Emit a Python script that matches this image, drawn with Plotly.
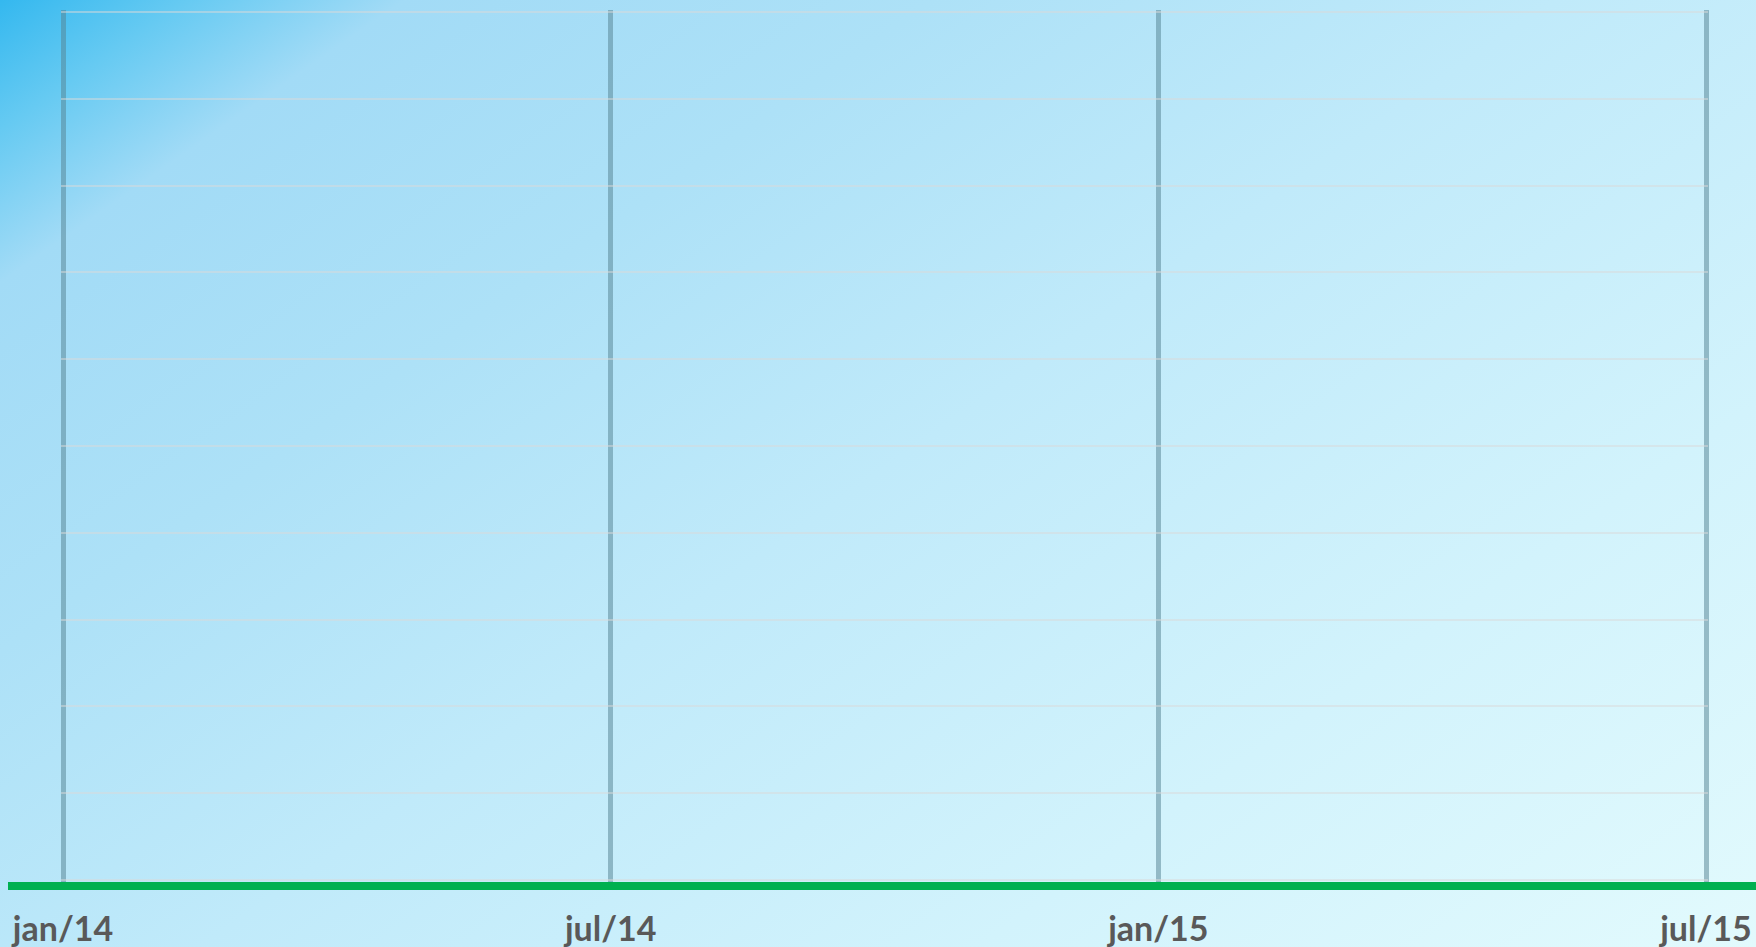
import plotly.graph_objects as go
import urllib.parse

# Data: the chart is empty (no series), only an axis of periods
categories = ["jan/14", "jul/14", "jan/15", "jul/15"]
month_index = [0, 6, 12, 18]
y_ticks = [0, 1, 2, 3, 4, 5, 6, 7, 8, 9, 10]

W, H = 1756, 947
PL, PR, PT, PB = 63, 1706, 12, 880      # plot edges (px) where the outer gridlines sit
EXT = 2                                  # extend so the edge gridlines are drawn
L, R, T, B = PL - EXT, W - PR - EXT, PT - EXT, H - PB - EXT
pw, ph = W - L - R, H - T - B
xspan = 18 / (PR - PL)
yspan = 10 / (PB - PT)

svg = (
    '<svg xmlns="http://www.w3.org/2000/svg" width="1756" height="947" preserveAspectRatio="none" viewBox="0 0 1756 947">'
    '<defs><linearGradient id="g" x1="0" y1="0" x2="1021" y2="1461" gradientUnits="userSpaceOnUse">'
    '<stop offset="0" stop-color="#34b8ef"/>'
    '<stop offset="0.06" stop-color="#66caf2"/>'
    '<stop offset="0.13" stop-color="#a2dbf6"/>'
    '<stop offset="0.3" stop-color="#ade1f7"/>'
    '<stop offset="0.5" stop-color="#c0eafa"/>'
    '<stop offset="0.75" stop-color="#d2f3fc"/>'
    '<stop offset="1" stop-color="#e2fafd"/>'
    '</linearGradient></defs>'
    '<rect x="0" y="0" width="1756" height="947" fill="url(#g)"/></svg>'
)
src = "data:image/svg+xml;charset=utf-8," + urllib.parse.quote(svg)

fig = go.Figure()
fig.add_trace(go.Scatter(x=month_index, y=[None] * len(month_index), mode="lines",
                         showlegend=False, hoverinfo="skip"))

fig.update_layout(
    width=W, height=H,
    margin=dict(l=L, r=R, t=T, b=B, pad=0, autoexpand=False),
    paper_bgcolor="rgba(0,0,0,0)",
    plot_bgcolor="rgba(0,0,0,0)",
    showlegend=False,
    images=[dict(source=src, xref="paper", yref="paper",
                 x=-L / pw, y=1 + T / ph,
                 sizex=W / pw, sizey=H / ph,
                 xanchor="left", yanchor="top", sizing="stretch", layer="below")],
    xaxis=dict(
        range=[-EXT * xspan, 18 + EXT * xspan], tickvals=month_index, ticktext=categories,
        showgrid=True, gridcolor="rgba(87,132,147,0.52)", gridwidth=5,
        zeroline=False, showline=False, ticks="", automargin=False,
        tickfont=dict(family="Lato", size=34, color="#595959", weight="bold"),
        ticklabelstandoff=24,
        fixedrange=True,
    ),
    yaxis=dict(
        range=[-EXT * yspan, 10 + EXT * yspan], tickvals=y_ticks, showticklabels=False,
        showgrid=True, gridcolor="rgba(217,217,217,0.5)", gridwidth=2,
        zeroline=False, showline=False, ticks="", automargin=False,
        fixedrange=True,
    ),
    shapes=[dict(type="line", xref="paper", yref="paper",
                 x0=(8 - L) / pw, x1=(W - L) / pw,
                 y0=(H - B - 886) / ph, y1=(H - B - 886) / ph,
                 line=dict(color="#00b050", width=8), layer="above")],
)

fig.write_html("out.html", config={"displayModeBar": False},
               post_script="document.body.style.margin='0';document.body.style.overflow='hidden';")
